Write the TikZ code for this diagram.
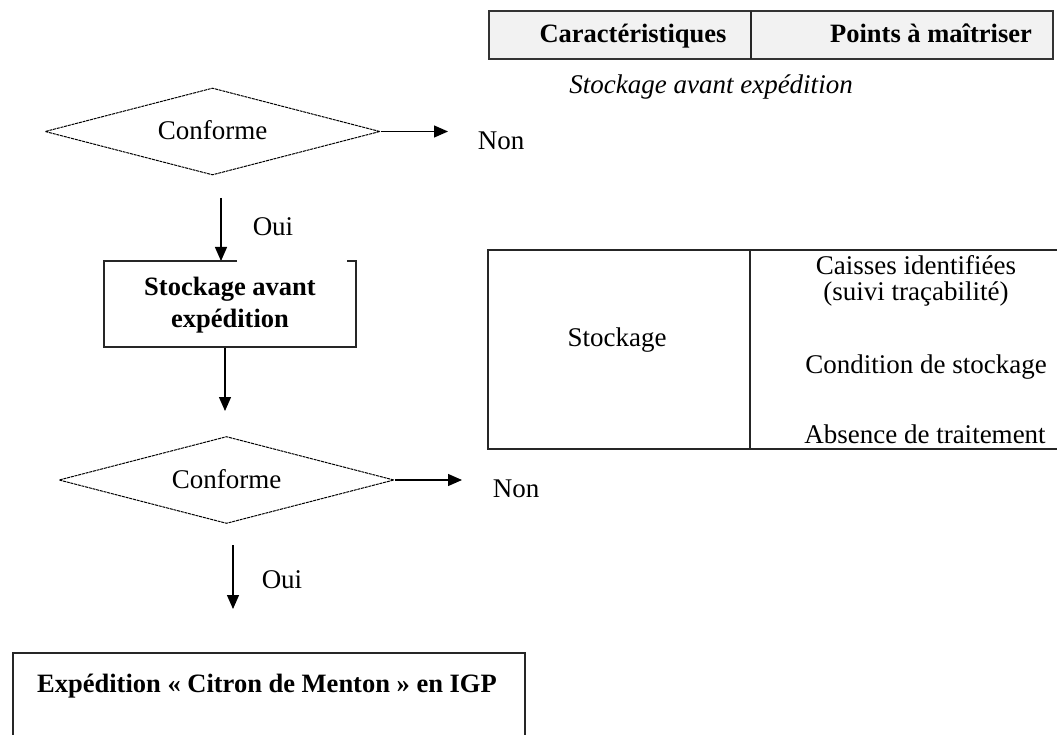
\documentclass[tikz,border=0pt]{standalone}
\usepackage{fontspec}
\setmainfont{Liberation Serif}
\usetikzlibrary{shapes.geometric,arrows.meta}
\definecolor{hdrgrey}{HTML}{F2F2F2}
\tikzset{
  txt/.style={inner sep=0pt, font=\fontsize{27}{31}\selectfont},
  btxt/.style={inner sep=0pt, font=\fontsize{26.5}{32}\selectfont\bfseries, align=center},
  itxt/.style={inner sep=0pt, font=\fontsize{27}{31}\selectfont\itshape},
  decision/.style={diamond, draw, line width=1pt, dash pattern=on 3pt off 0.8pt, aspect=3.85, minimum width=335pt, minimum height=87pt, inner sep=0pt, font=\fontsize{27}{31}\selectfont},
  arr/.style={line width=1.3pt, -{Triangle[length=14pt,width=12pt]}},
  frame/.style={line width=1.6pt, black!85},
  tframe/.style={line width=2pt, black!85},
}
\begin{document}
\begin{tikzpicture}[x=1pt,y=-1pt]
\useasboundingbox (0,0) rectangle (1057,735);

% header table
\draw[line width=2.6pt, black!80, fill=hdrgrey] (489,11) rectangle (1053,59);
\draw[line width=1.6pt, black!85] (751,11) -- (751,59);
\node[btxt, anchor=base] (hcar) at (633,43) {Caractéristiques};
\node[btxt, anchor=base] (hpts) at (931,43) {Points à maîtriser};
\node[itxt, anchor=base] (title) at (711,94) {Stockage avant expédition};

% decision 1
\node[decision] (d1) at (212.5,131.5) {\raisebox{3pt}{Conforme}};
\coordinate (n1end) at (448,131.5);
\draw[arr] (d1.east) -- (n1end);
\node[txt] (non1) at (501,141) {Non};
\coordinate (o1start) at (221,198);
\coordinate (o1end) at (221,261);
\draw[arr] (o1start) -- (o1end);
\node[txt] (oui1) at (273,227) {Oui};

% box stockage
\node[btxt, minimum width=252pt, minimum height=86pt] (box) at (230,305) {Stockage avant\\expédition};
\draw[frame] (237,261) -- (104,261) -- (104,347) -- (356,347) -- (356,261) -- (347,261);
\coordinate (a2end) at (225,411);
\draw[arr] ([xshift=-5pt]box.south) -- (a2end);

% decision 2
\node[decision] (d2) at (226.5,480) {\raisebox{3pt}{Conforme}};
\coordinate (n2end) at (462,480);
\draw[arr] (d2.east) -- (n2end);
\node[txt] (non2) at (516,489) {Non};
\coordinate (o2start) at (233,545);
\coordinate (o2end) at (233,609);
\draw[arr] (o2start) -- (o2end);
\node[txt] (oui2) at (282,580) {Oui};

% bottom box
\draw[frame] (13,736) -- (13,653) -- (525,653) -- (525,736);
\node[btxt, anchor=west] (exp) at (37,686) {Expédition « Citron de Menton » en IGP};

% table 2
\draw[tframe] (1058,250) -- (488,250) -- (488,449) -- (1058,449);
\draw[tframe] (750,250) -- (750,449);
\node[txt] (stk) at (617,340) {Stockage};
\node[txt, align=center, font=\fontsize{27}{26.5}\selectfont] (c1) at (916,281) {Caisses identifiées\\(suivi traçabilité)};
\node[txt] (c3) at (926,367) {Condition de stockage};
\node[txt] (c4) at (925,434) {Absence de traitement};
\end{tikzpicture}
\end{document}
